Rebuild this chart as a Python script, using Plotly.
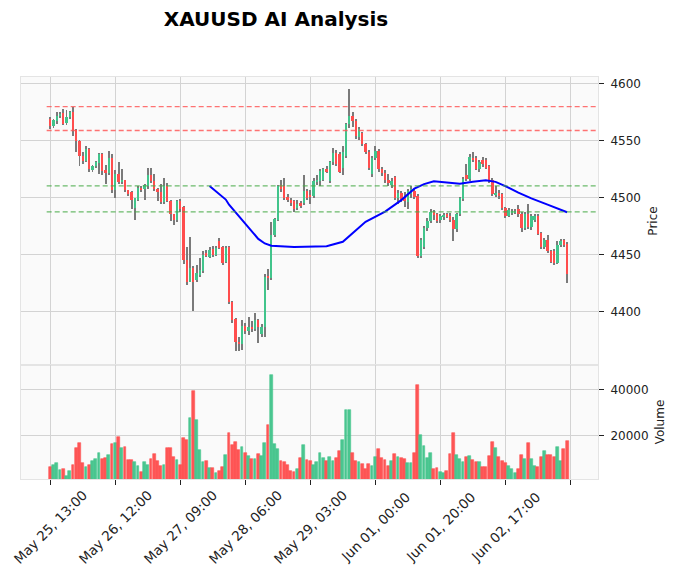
import plotly.graph_objects as go
from plotly.subplots import make_subplots

# ---------------- data ----------------
opens = [4569,4563,4567,4571.5,4574,4565.5,4570.5,4575.5,4559.5,4550,
         4537,4532.5,4542.5,4524,4527.5,4530.5,4538,4524,4522,4534.5,
         4506.5,4520.5,4514,4515.5,4506.5,4505,4491,4498.5,4509,4507.5,
         4510.5,4520,4515,4508,4505.5,4496,4510.5,4497.5,4485.5,4481,
         4497.5,4492,4445.5,4426.5,4438.5,4428,4432.5,4435.5,4451.5,4448.5,
         4455,4450,4462.5,4457,4444,4457,4409,4393.5,4374,4372,
         4388,4383,4387,4385,4393,4381,4387,4431.5,4429.5,4467.5,
         4481,4511,4510,4501,4498,4497,4491,4495.5,4495.5,4506,
         4502,4501.5,4514,4514.5,4516,4525,4514.5,4531,4539,4538,
         4526,4536.8,4564.5,4572,4567.5,4553,4557,4547,4540,4521,
         4535,4541,4525.5,4521.5,4516,4511,4518.5,4500,4504,4500,
         4496,4503,4506,4502,4449,4457,4473.5,4479.5,4488,4486,
         4480.4,4483,4485.4,4484.5,4481,4472.7,4485.4,4499.2,4520,4516.8,
         4535.3,4535.3,4525.6,4533.3,4533.3,4528,4515.6,4503,4504.5,4503,
         4491.2,4484.5,4486.8,4487.4,4490.4,4486.2,4473.6,4485.4,4474.5,4481,
         4484.5,4469.2,4456.9,4463.3,4453,4453,4443.3,4458.9,4462.7,4459.8]
highs = [4571,4569,4575,4575,4578,4577,4576,4580,4560,4551,
         4540,4545,4544,4529,4532,4539,4539,4529,4541,4538,
         4524,4531,4525,4516,4507,4506,4500,4510,4510,4512,
         4526,4526,4521,4509,4512,4517,4513,4498,4486,4498,
         4499,4493,4457,4466,4440,4441,4447,4453,4454,4457,
         4458,4458,4465,4458,4458,4458,4410,4395,4378,4393,
         4390,4396,4392,4399,4394,4389,4433,4438,4479,4482,
         4511,4516,4517,4503,4500,4498,4498,4497,4520,4508,
         4507,4517,4520,4525,4526,4528,4532,4544,4542,4540,
         4545,4566,4595.5,4575,4569,4562,4558,4548,4542,4537,
         4545,4543,4527,4524,4521,4517,4519,4507,4506,4505,
         4508,4510,4508,4503,4465,4475,4482,4490,4489,4487,
         4486,4487,4487,4487,4483,4487,4501,4518,4530,4538,
         4540,4537,4533,4536,4535,4529,4517,4510,4507,4504,
         4492,4491,4490,4490,4494,4488,4488,4495,4486,4486,
         4486,4470,4465,4467,4454,4455,4462,4464,4464,4461]
lows = [4560,4561,4565,4570,4564,4564,4569,4554,4540,4528,
        4530,4531,4523,4523,4526,4521,4520,4512,4520,4504,
        4500,4512,4512,4505,4502,4490,4481,4497,4505,4498,
        4508,4513,4506,4497,4495,4495,4496,4480,4476,4479,
        4488,4442,4424,4426,4401,4426,4431,4434,4448,4447,
        4448,4449,4455,4441,4443,4407,4390,4366,4366,4367,
        4381,4380,4382,4383,4373,4378,4378,4419,4428,4466,
        4480,4505,4498,4496,4493,4488,4489,4491,4494,4498,
        4495,4500,4511,4510,4515,4522,4513,4529,4528,4522,
        4520,4535,4561,4562,4552,4551,4545,4538,4524,4518,
        4533,4523,4519,4513,4510,4509,4498,4495,4496,4492,
        4490,4500,4499,4447,4447,4455,4471,4478,4481,4478,
        4478,4481,4482,4479,4462,4470,4484,4497,4515,4515,
        4531,4524,4523,4527,4525,4513,4502,4501,4499,4489,
        4482,4483,4485,4486,4483,4470,4472,4473,4472,4479,
        4467,4455,4455,4452,4443,4441,4442,4457,4457,4425]
closes = [4563,4568,4571.5,4573.5,4565,4570.5,4575,4559.5,4549.5,4537,
          4532.5,4542.5,4525,4528,4531.5,4538,4523.5,4522,4534.5,4506.5,
          4520.5,4514,4515.5,4506.5,4503.5,4498.5,4499.5,4509,4506.5,4511,
          4520,4515,4507.5,4505.5,4496,4510.5,4497,4485.5,4481,4497.5,
          4490,4445.5,4426.5,4438.5,4426.5,4434,4436.5,4450,4449,4454.5,
          4450,4456,4456,4443,4456,4409,4393,4374,4372,4388,
          4383,4387,4385,4393,4387,4387,4431,4429.5,4467.5,4481.5,
          4510.5,4508,4500,4498,4495.5,4490,4495,4492.5,4506,4500,
          4501,4514.5,4515.5,4523.5,4525,4523.5,4531,4539,4530,4523,
          4540,4564.5,4572,4567,4554.5,4560,4547,4540.5,4526,4535,
          4541,4525,4521.5,4515.5,4513,4515,4500,4504,4499,4497,
          4506,4508,4501,4449,4463,4473.5,4479.5,4488,4485,4480,
          4484.5,4485,4483.3,4480.4,4472.7,4485.4,4500,4516.8,4516.8,4536.2,
          4533.3,4525.6,4531,4529.5,4526.5,4514.8,4503,4504.5,4501.5,4491.2,
          4484.5,4489.2,4488.3,4488.3,4485.4,4473.6,4486.2,4474.5,4484.5,4484.5,
          4468.6,4456.9,4463.3,4453,4444.2,4443.3,4458.9,4461.8,4458.9,4433.3]
volumes = [6450,7316,8180,5150,5585,2556,4720,7316,14676,16840,
           8180,6450,7316,9048,9915,12510,9915,10347,11645,16407,
           16840,19437,14676,15108,9480,9480,8614,6883,4285,8614,
           7316,9915,12078,9048,6883,7316,14676,14676,10780,9480,
           7316,19004,18138,27662,39351,26796,13810,8614,9048,6017,
           6017,3853,4720,6450,11645,21169,15974,17273,13810,15108,
           12510,11213,9915,9915,12078,11213,16840,24632,46277,16407,
           14243,9048,8614,7316,4720,4285,5585,10347,15974,9480,
           9048,7316,8614,12510,10347,9048,10780,9048,10347,13377,
           18138,31126,31126,12510,9048,8614,7749,5585,7749,6883,
           10780,14243,10347,9480,6883,9048,12078,10780,10347,9915,
           8180,8180,12510,41948,20303,15541,10347,12510,5585,6017,
           4285,3853,4720,12078,21169,11645,9915,8614,10780,11213,
           9480,8614,8614,6450,6450,11213,17273,14676,10780,9048,
           8180,6883,5585,3853,5585,11645,9915,16840,9915,6883,
           6450,10780,13377,11645,11645,10780,15108,9048,14243,17706]
ma_index = [49,54,55,60,64,66,68,75,80,85,90,97,103,108,112,115,118,122,126,130,134,137,140,144,148,153,159]
ma_values = [4510.3,4498.5,4494,4477,4464,4460,4458,4457,4457,4457.5,4461.5,4479,4488,4498,4508,4512,
             4514.5,4513.3,4512.4,4514,4515.3,4514,4510.3,4504.5,4499.5,4494,4487.4]
tick_index = [0,20,40,60,80,100,120,140,160]
tick_labels = ["May 25, 13:00","May 26, 12:00","May 27, 09:00","May 28, 06:00",
               "May 29, 03:00","Jun 01, 00:00","Jun 01, 20:00","Jun 02, 17:00",""]
price_ticks = [4400, 4450, 4500, 4550, 4600]
volume_ticks = [20000, 40000]
resistance_levels = [4580, 4559]
support_levels = [4510.5, 4487.7]

# ---------------- styling ----------------
UP = "#41c48b"
DOWN = "#ff4d4d"
WICK = "#7a7a7a"
FONT = "DejaVu Sans"
GRID = "#d3d3d3"

idx = list(range(len(opens)))
up = [c >= o for o, c in zip(opens, closes)]
body_base = [min(o, c) for o, c in zip(opens, closes)]
body_h = [max(abs(c - o), 0.6) for o, c in zip(opens, closes)]
colors = [UP if u else DOWN for u in up]

fig = make_subplots(rows=2, cols=1, shared_xaxes=True, vertical_spacing=0,
                    row_heights=[0.7164, 0.2836])

# wicks (thin bars below bodies)
fig.add_trace(go.Bar(x=idx, y=[h - l for h, l in zip(highs, lows)], base=lows,
                     width=0.3, marker=dict(color=WICK, line=dict(width=0)),
                     showlegend=False, hoverinfo="skip"), row=1, col=1)
# bodies
fig.add_trace(go.Bar(x=idx, y=body_h, base=body_base, width=0.72,
                     marker=dict(color=colors, line=dict(width=0)),
                     showlegend=False), row=1, col=1)
# moving average
fig.add_trace(go.Scatter(x=ma_index, y=ma_values, mode="lines",
                         line=dict(color="#0000ff", width=2), showlegend=False),
              row=1, col=1)
# volume
fig.add_trace(go.Bar(x=idx, y=volumes, width=0.86,
                     marker=dict(color=colors, opacity=0.95,
                                 line=dict(color=colors, width=0.6)),
                     showlegend=False), row=2, col=1)

# horizontal levels
for lvl in resistance_levels:
    fig.add_shape(type="line", x0=-1.1, x1=168.5, y0=lvl, y1=lvl, xref="x", yref="y",
                  line=dict(color="rgba(255,80,80,0.8)", width=1.3, dash="5px,3px"))
for lvl in support_levels:
    fig.add_shape(type="line", x0=-1.1, x1=168.5, y0=lvl, y1=lvl, xref="x", yref="y",
                  line=dict(color="rgba(70,170,70,0.8)", width=1.3, dash="5px,3px"))

xr = [-9.0, 168.5]
fig.update_xaxes(range=xr, tickvals=tick_index, showgrid=True, gridcolor=GRID, gridwidth=1.3,
                 showline=True, linecolor="#e4e4e4", mirror=True, zeroline=False,
                 showticklabels=False)
fig.update_xaxes(ticks="outside", ticklen=5, tickcolor="#222", tickwidth=1, row=2, col=1)
fig.update_xaxes(ticks="", row=1, col=1)

fig.update_yaxes(side="right", showgrid=True, gridcolor=GRID, gridwidth=1.3,
                 showline=True, linecolor="#e4e4e4", mirror=True, zeroline=False,
                 ticks="outside", ticklen=5, tickcolor="#222", ticklabelstandoff=4,
                 tickfont=dict(family=FONT, size=12, color="#222"))
fig.update_yaxes(range=[4353.5, 4605.9], tickvals=price_ticks,
                 ticktext=[str(v) for v in price_ticks],
                 title=dict(text="Price", font=dict(family=FONT, size=12, color="#222"), standoff=8),
                 row=1, col=1)
fig.update_yaxes(range=[1130, 50600], tickvals=volume_ticks,
                 ticktext=[str(v) for v in volume_ticks],
                 title=dict(text="Volume", font=dict(family=FONT, size=12, color="#222"), standoff=8),
                 row=2, col=1)

for t, lab in zip(tick_index, tick_labels):
    if lab:
        fig.add_annotation(x=t, y=-0.1194, xref="x2", yref="paper", text=lab, showarrow=False,
                           textangle=-45, xanchor="center", yanchor="middle",
                           font=dict(family=FONT, size=13.5, color="#222"))

fig.update_layout(
    width=679, height=579,
    margin=dict(l=21, r=81, t=77, b=100),
    paper_bgcolor="white", plot_bgcolor="#fafafa",
    barmode="overlay", bargap=0,
    title=dict(text="<b>XAUUSD AI Analysis</b>", x=276/679, xanchor="center",
               y=1 - 19/579, yanchor="middle",
               font=dict(family=FONT, size=20, color="black")),
    font=dict(family=FONT),
)

fig.write_html("out.html", config={"displayModeBar": False},
               post_script="document.body.style.margin='0';")
